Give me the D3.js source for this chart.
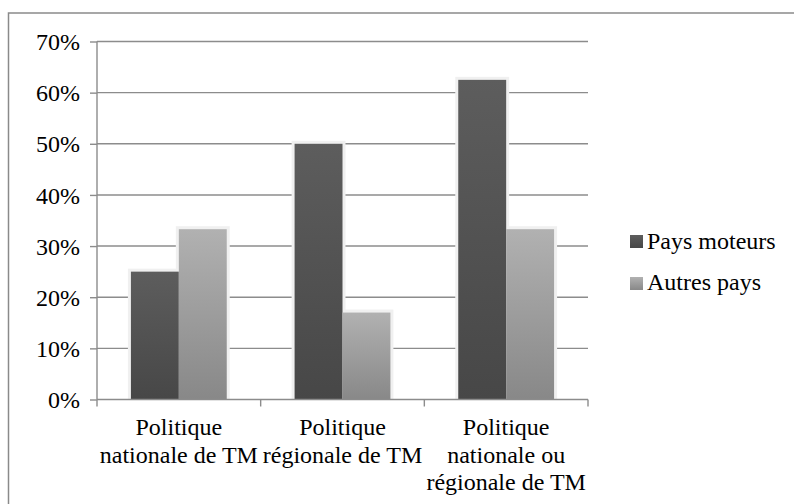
<!DOCTYPE html>
<html><head><meta charset="utf-8">
<script src="https://cdn.jsdelivr.net/npm/d3@7"></script>
<style>body{margin:0;background:#fff}svg{display:block}</style>
</head><body>
<svg id="c" width="794" height="504"></svg>
<script>
const categories = [["Politique","nationale de TM"],["Politique","régionale de TM"],["Politique","nationale ou","régionale de TM"]];
const seriesNames = ["Pays moteurs","Autres pays"];
const paysMoteurs = [0.25, 0.50, 0.625];
const autresPays = [0.333, 0.17, 0.333];
const yTicks = [0,0.1,0.2,0.3,0.4,0.5,0.6,0.7];

(function(){
const svg = d3.select("#c");
const FONT = "Liberation Serif";
const pL = 97, pR = 588, pT = 41.5, pB = 399.5;
const x = d3.scaleBand().domain(d3.range(categories.length)).range([pL,pR]).paddingInner(0).paddingOuter(0);
const x1 = d3.scaleBand().domain([0,1]).range([0,x.bandwidth()]).paddingOuter(0.708).paddingInner(0);
const y = d3.scaleLinear().domain([0,0.7]).range([pB,pT]);

// outer border
svg.append("rect").attr("x",8.5).attr("y",13).attr("width",800).attr("height",520)
  .attr("fill","none").attr("stroke","#8a8a8a").attr("stroke-width",1.5);

const defs = svg.append("defs");
const grads = [["g0","#5d5d5d","#474747"],["g1","#b1b1b1","#888888"]];
grads.forEach(([id,c1,c2])=>{
  const g = defs.append("linearGradient").attr("id",id).attr("x1",0).attr("y1",0).attr("x2",0).attr("y2",1);
  g.append("stop").attr("offset","0%").attr("stop-color",c1);
  g.append("stop").attr("offset","100%").attr("stop-color",c2);
});

// gridlines
svg.append("g").selectAll("line").data(yTicks.slice(1)).join("line")
  .attr("x1",pL).attr("x2",pR).attr("y1",d=>y(d)).attr("y2",d=>y(d))
  .attr("stroke","#8c8c8c").attr("stroke-width",1.4);

// bars
const data = [paysMoteurs, autresPays];
data.forEach((vals,si)=>{
  svg.append("g").selectAll("rect").data(vals).join("rect")
    .attr("x",(d,i)=>x(i)+x1(si)-3).attr("y",d=>y(d)-3)
    .attr("width",x1.bandwidth()+6).attr("height",d=>pB-y(d)+3)
    .attr("fill","#f0f0f0");
});
data.forEach((vals,si)=>{
  svg.append("g").selectAll("rect").data(vals).join("rect")
    .attr("x",(d,i)=>x(i)+x1(si)).attr("y",d=>y(d))
    .attr("width",x1.bandwidth()).attr("height",d=>pB-y(d))
    .attr("fill",`url(#g${si})`);
});

// y axis
const yAxis = d3.axisLeft(y).tickValues(yTicks).tickFormat(d3.format(".0%")).tickSize(7).tickPadding(10);
const ya = svg.append("g").attr("transform",`translate(${pL},0)`).call(yAxis);
ya.select(".domain").attr("stroke","#8c8c8c").attr("stroke-width",1.4).attr("d",`M0,${pT}V${pB}`);
ya.selectAll(".tick line").attr("stroke","#8c8c8c").attr("stroke-width",1.4);
ya.selectAll(".tick text").style("font-family",FONT).style("font-size","24px").attr("fill","#000").attr("dy","0.34em");

// x axis
svg.append("line").attr("x1",pL).attr("x2",pR).attr("y1",pB).attr("y2",pB)
  .attr("stroke","#8c8c8c").attr("stroke-width",1.4);
svg.append("g").selectAll("line").data(d3.range(categories.length+1)).join("line")
  .attr("x1",i=>pL+i*x.bandwidth()).attr("x2",i=>pL+i*x.bandwidth())
  .attr("y1",pB).attr("y2",pB+7).attr("stroke","#8c8c8c").attr("stroke-width",1.4);

const cl = svg.append("g");
categories.forEach((lines,i)=>{
  const t = cl.append("text").style("font-family",FONT).style("font-size","24px").attr("text-anchor","middle").attr("fill","#000");
  lines.forEach((ln,j)=>{
    t.append("tspan").attr("x",x(i)+x.bandwidth()/2).attr("y",435+j*27.5).text(ln);
  });
});

// legend
const lg = svg.append("g");
seriesNames.forEach((n,i)=>{
  lg.append("rect").attr("x",630).attr("y",235+i*42).attr("width",13).attr("height",13).attr("fill",`url(#g${i})`);
  lg.append("text").attr("x",647).attr("y",249+i*41).style("font-family",FONT).style("font-size","24px").attr("fill","#000").text(n);
});
})();
</script>
</body></html>
